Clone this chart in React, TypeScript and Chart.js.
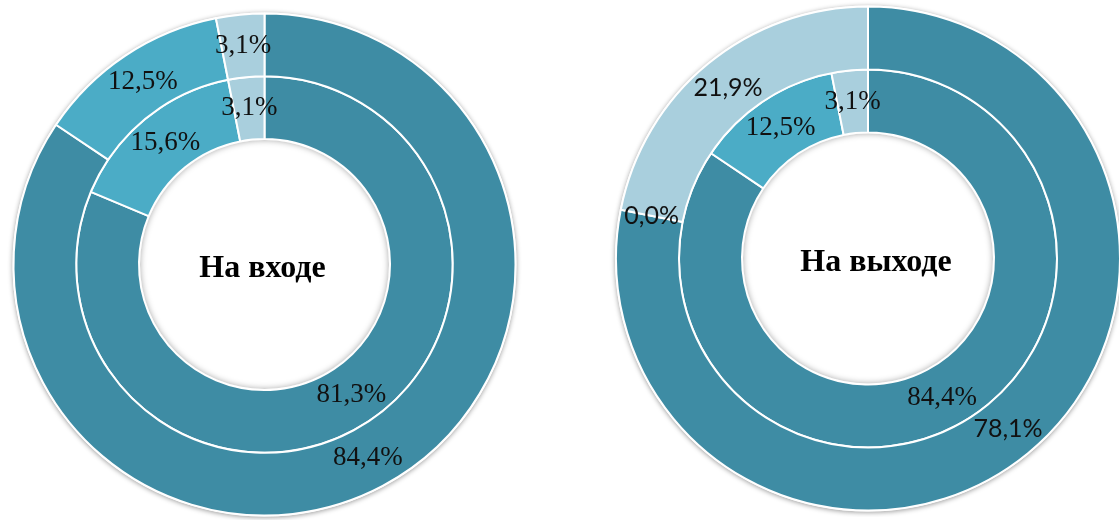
import React, { useEffect, useRef } from "react";
import { Chart, registerables } from "chart.js";

Chart.register(...registerables);

// ---- Data ----
const categories = ["Высокий", "Средний", "Низкий"];
const inputOuter = [84.4, 12.5, 3.1];
const inputInner = [81.3, 15.6, 3.1];
const outputOuter = [78.1, 0.0, 21.9];
const outputInner = [84.4, 12.5, 3.1];
const titles = ["На входе", "На выходе"];

// ---- Styles ----
const segmentColors = ["#3E8CA4", "#4BACC6", "#A9CFDD"];
const serifFont = '27px "Liberation Serif", "Times New Roman", serif';
const sansFont = '25px Lato, "Liberation Sans", sans-serif';
const titleFont = 'bold 32px "Liberation Serif", "Times New Roman", serif';

type PanelProps = {
  outer: number[];
  inner: number[];
  title: string;
  outerFont: string;
  innerFont: string;
  width: number;
  height: number;
  left: number;
  top: number;
  radius: number;
  titleDx: number;
  titleDy: number;
};

const fmt = (v: number) => v.toFixed(1).replace(".", ",") + "%";

function DoughnutPanel(props: PanelProps) {
  const ref = useRef<HTMLCanvasElement | null>(null);

  useEffect(() => {
    const canvas = ref.current;
    if (!canvas) return;
    const fonts = [props.outerFont, props.innerFont];

    const decorPlugin = {
      id: "decor",
      beforeDatasetsDraw(chart: any) {
        const arc: any = chart.getDatasetMeta(0).data[0];
        if (!arc) return;
        const ctx = chart.ctx;
        ctx.save();
        ctx.shadowColor = "rgba(0,0,0,0.4)";
        ctx.shadowBlur = 5;
        ctx.shadowOffsetY = 1;
        ctx.beginPath();
        ctx.arc(arc.x, arc.y, arc.outerRadius + 1, 0, Math.PI * 2);
        ctx.fillStyle = "#ffffff";
        ctx.fill();
        ctx.restore();
      },
      afterDatasetsDraw(chart: any) {
        const ctx = chart.ctx;
        const n = chart.data.datasets.length;
        const innerArc: any = chart.getDatasetMeta(n - 1).data[0];
        if (innerArc) {
          const r = innerArc.innerRadius - 1;
          ctx.save();
          ctx.beginPath();
          ctx.arc(innerArc.x, innerArc.y, r, 0, Math.PI * 2);
          ctx.clip();
          ctx.shadowColor = "rgba(0,0,0,0.35)";
          ctx.shadowBlur = 6;
          ctx.beginPath();
          ctx.arc(innerArc.x, innerArc.y, r + 20, 0, Math.PI * 2);
          ctx.lineWidth = 40;
          ctx.strokeStyle = "#ffffff";
          ctx.stroke();
          ctx.restore();
        }
        // data labels
        ctx.save();
        ctx.textAlign = "center";
        ctx.textBaseline = "middle";
        ctx.fillStyle = "#111111";
        for (let d = 0; d < n; d++) {
          const meta = chart.getDatasetMeta(d);
          const values = chart.data.datasets[d].data as number[];
          ctx.font = fonts[d];
          meta.data.forEach((el: any, i: number) => {
            const p = el.tooltipPosition(false);
            ctx.fillText(fmt(values[i]), p.x, p.y);
          });
        }
        // centre title
        if (innerArc) {
          ctx.font = titleFont;
          ctx.fillStyle = "#000000";
          ctx.fillText(props.title, innerArc.x + props.titleDx, innerArc.y + props.titleDy);
        }
        ctx.restore();
      },
    };

    const chart = new Chart(canvas, {
      type: "doughnut",
      data: {
        labels: categories,
        datasets: [
          {
            data: props.outer,
            backgroundColor: segmentColors,
            borderColor: "#ffffff",
            borderWidth: 2,
          },
          {
            data: props.inner,
            backgroundColor: segmentColors,
            borderColor: "#ffffff",
            borderWidth: 2,
          },
        ],
      },
      options: {
        responsive: false,
        animation: false,
        radius: props.radius,
        cutout: "50%",
        layout: { padding: 0 },
        plugins: {
          legend: { display: false },
          tooltip: { enabled: false },
          title: { display: false },
        },
      } as any,
      plugins: [decorPlugin],
    });
    return () => chart.destroy();
  }, []);

  return (
    <canvas
      ref={ref}
      width={props.width}
      height={props.height}
      style={{
        position: "absolute",
        left: props.left,
        top: props.top,
        width: props.width,
        height: props.height,
      }}
    />
  );
}

export default function App() {
  return (
    <div
      style={{
        position: "fixed",
        left: 0,
        top: 0,
        width: 1119,
        height: 520,
        overflow: "hidden",
        background: "#ffffff",
      }}
    >
      <DoughnutPanel
        outer={inputOuter}
        inner={inputInner}
        title={titles[0]}
        outerFont={serifFont}
        innerFont={serifFont}
        width={529}
        height={529}
        left={0}
        top={0}
        radius={251}
        titleDx={-2}
        titleDy={4}
      />
      <DoughnutPanel
        outer={outputOuter}
        inner={outputInner}
        title={titles[1]}
        outerFont={sansFont}
        innerFont={serifFont}
        width={518}
        height={517}
        left={609}
        top={0}
        radius={252}
        titleDx={8}
        titleDy={4}
      />
    </div>
  );
}
